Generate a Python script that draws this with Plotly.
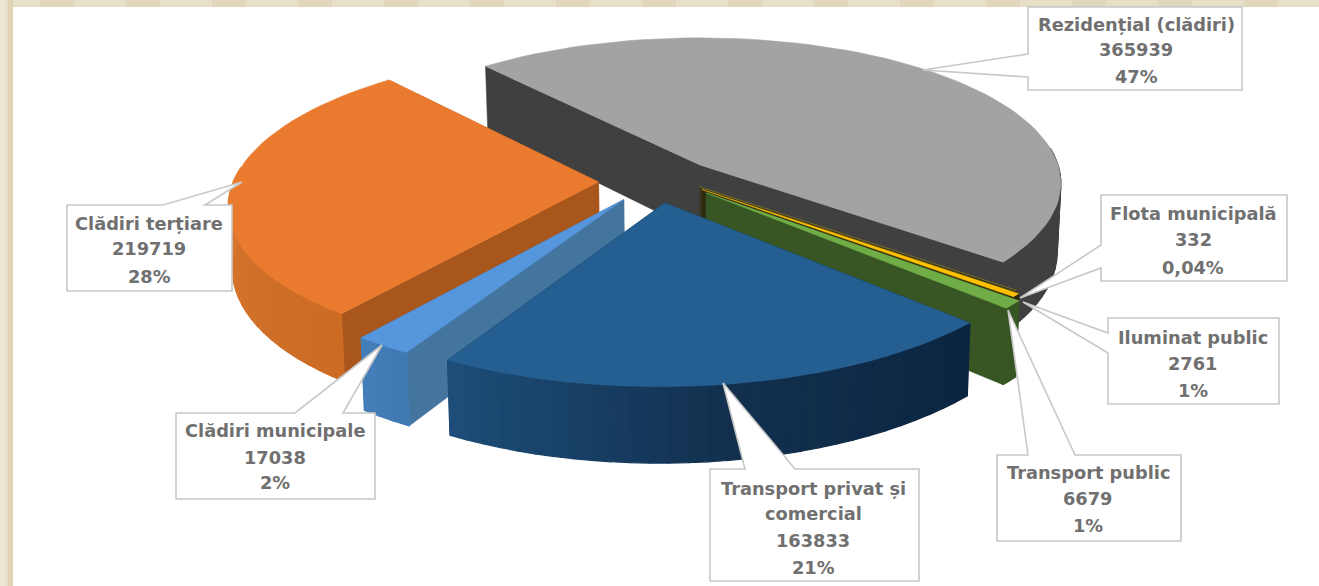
import math
import plotly.graph_objects as go

# ---------- data ----------
categories = ["Rezidențial (clădiri)", "Flota municipală", "Iluminat public", "Transport public",
              "Transport privat și comercial", "Clădiri municipale", "Clădiri terțiare"]
values = [365939, 332, 2761, 6679, 163833, 17038, 219719]
percent_labels = ["47%", "0,04%", "1%", "1%", "21%", "2%", "28%"]

# ---------- styles ----------
top_colors = ["#A3A3A3", "#8A7A30", "#FFC000", "#70AD47", "#255E91", "#5596DC", "#EA7B2E"]
face_colors = ["#404040", "#3A3A20", "#2E2A10", "#375623", "#14385A", "#44759F", "#A9561D"]
wall_from = ["#404040", "#3A3A20", "#2E2A10", "#375623", "#0B2540", "#3F79B5", "#CB6B24"]
wall_mid = ["#404040", "#3A3A20", "#2E2A10", "#375623", "#12304F", "#427BB5", "#D8762E"]
wall_to = ["#404040", "#3A3A20", "#2E2A10", "#375623", "#1D4E79", "#4580BA", "#C46A26"]
explode_u = [0, 0, 2, 6, -34, -74, -100]
explode_v = [0, -54, -60, -68, -92, -84, -42]
heights = [68, 66, 66, 68, 64, 63, 60]
radii = [358, 365, 365, 365, 372, 365, 360]
draw_order = [0, 1, 2, 3, 6, 5, 4]

CX, CY, TILT, PERSP, START = 700, 165, 0.40, 2850, -41


def project(u, v, z=0.0):
    s = PERSP / (PERSP + v)
    k = 1 - 0.00015 * z
    return CX + s * u * k, CY - TILT * s * v + z * s


def hex_rgb(h):
    return tuple(int(h[i:i + 2], 16) for i in (1, 3, 5))


def lerp(c1, c2, t):
    a, b = hex_rgb(c1), hex_rgb(c2)
    return "rgb(%d,%d,%d)" % tuple(round(a[j] + (b[j] - a[j]) * t) for j in range(3))


fig = go.Figure()


def poly(pts, color, lw=1.0):
    xs = [p[0] for p in pts] + [pts[0][0]]
    ys = [p[1] for p in pts] + [pts[0][1]]
    fig.add_trace(go.Scatter(x=xs, y=ys, mode="lines", fill="toself", fillcolor=color,
                             line=dict(color=color, width=lw), hoverinfo="skip", showlegend=False))


total = sum(values)
angles = [START]
for val in values:
    angles.append(angles[-1] + val / total * 360)


def rim(i, deg):
    a = math.radians(deg)
    return explode_u[i] + radii[i] * math.sin(a), explode_v[i] + radii[i] * math.cos(a)


for i in draw_order:
    a0, a1 = angles[i], angles[i + 1]
    h = heights[i]
    ou, ov = explode_u[i], explode_v[i]
    n = max(2, int((a1 - a0) / 2.5))
    degs = [a0 + (a1 - a0) * k / n for k in range(n + 1)]

    # radial faces, far one first
    walls = []
    for edge in (a0, a1):
        u, v = rim(i, edge)
        walls.append(((v + ov) / 2, [project(ou, ov), project(u, v), project(u, v, h), project(ou, ov, h)]))
    walls.sort(key=lambda w: -w[0])
    for _, pts in walls:
        poly(pts, face_colors[i], 0.5)

    # curved outer wall, only the part facing the viewer, shaded segment by segment
    for k in range(n):
        d0, d1 = degs[k], degs[k + 1]
        mid = math.cos(math.radians((d0 + d1) / 2))
        if mid > 0.12:
            continue
        t = (k + 0.5) / n
        col = lerp(wall_from[i], wall_mid[i], t * 2) if t < 0.5 else lerp(wall_mid[i], wall_to[i], t * 2 - 1)
        u0, v0 = rim(i, d0)
        u1, v1 = rim(i, d1)
        poly([project(u0, v0), project(u1, v1), project(u1, v1, h), project(u0, v0, h)], col, 1.2)

    # top face
    top = [project(ou, ov)] + [project(*rim(i, d)) for d in degs]
    poly(top, top_colors[i], 0.5)

# ---------- callouts: (x0, y0, x1, y1, wedge side, wedge a, wedge b, tip x, tip y) ----------
boxes = [
    (1028, 7, 1242, 90, "l", 54, 77, 923, 70),
    (1101, 195, 1287, 281, "l", 245, 268, 1020, 298),
    (1108, 318, 1279, 404, "l", 333, 353, 1023, 302),
    (997, 455, 1181, 541, "t", 1028, 1075, 1008, 310),
    (710, 469, 919, 581, "t", 745, 795, 723, 383),
    (176, 413, 375, 499, "t", 295, 343, 382, 345),
    (67, 205, 232, 291, "t", 163, 205, 242, 182),
]
text_rows = [
    [24, 49, 76], [213, 239, 267], [337, 363, 390], [472, 498, 525],
    [488, 513, 540, 567], [430, 457, 482], [223, 248, 276],
]
text_cx = [1136, 1193, 1193, 1088, 813, 275, 149]
value_text = [str(v) for v in values]
name_lines = [["Rezidențial (clădiri)"], ["Flota municipală"], ["Iluminat public"], ["Transport public"],
              ["Transport privat și", "comercial"], ["Clădiri municipale"], ["Clădiri terțiare"]]

shapes = [
    dict(type="rect", x0=0, x1=1319, y0=0, y1=586, fillcolor="#E8DFC8", line_width=0, layer="below"),
    dict(type="rect", x0=0, x1=6, y0=0, y1=586, fillcolor="#EDE6D2", line_width=0, layer="below"),
    dict(type="rect", x0=8, x1=13, y0=0, y1=586, fillcolor="#DFD3B3", line_width=0, layer="below"),
    dict(type="rect", x0=13, x1=1319, y0=7, y1=586, fillcolor="#FFFFFF", line_width=0, layer="below"),
]
for bx in range(40, 1319, 86):
    shapes.append(dict(type="rect", x0=bx, x1=bx + 34, y0=0, y1=7, fillcolor="#E0D6BB", line_width=0, layer="below"))

for (x0, y0, x1, y1, side, a, b, tx, ty) in boxes:
    if side == "l":
        path = f"M{x0},{y0} L{x1},{y0} L{x1},{y1} L{x0},{y1} L{x0},{b} L{tx},{ty} L{x0},{a} Z"
    else:
        path = f"M{x0},{y0} L{a},{y0} L{tx},{ty} L{b},{y0} L{x1},{y0} L{x1},{y1} L{x0},{y1} Z"
    shapes.append(dict(type="path", path=path, fillcolor="#FFFFFF", layer="above",
                       line=dict(color="#C8C8C8", width=1.6)))

annotations = []
for i in range(len(values)):
    lines = name_lines[i] + [value_text[i], percent_labels[i]]
    for line, yy in zip(lines, text_rows[i]):
        annotations.append(dict(x=text_cx[i], y=yy, text=line, showarrow=False, xanchor="center", yanchor="middle",
                                font=dict(family="DejaVu Sans", size=17.8, color="#707070", weight="bold")))

fig.update_layout(
    width=1319, height=586, autosize=False,
    margin=dict(l=0, r=0, t=0, b=0),
    paper_bgcolor="#FFFFFF", plot_bgcolor="#FFFFFF",
    showlegend=False,
    xaxis=dict(range=[0, 1319], visible=False, fixedrange=True),
    yaxis=dict(range=[586, 0], visible=False, fixedrange=True),
    shapes=shapes, annotations=annotations,
)

fig.write_html("out.html", config={"displayModeBar": False},
               post_script="document.body.style.margin='0';document.body.style.overflow='hidden';")
